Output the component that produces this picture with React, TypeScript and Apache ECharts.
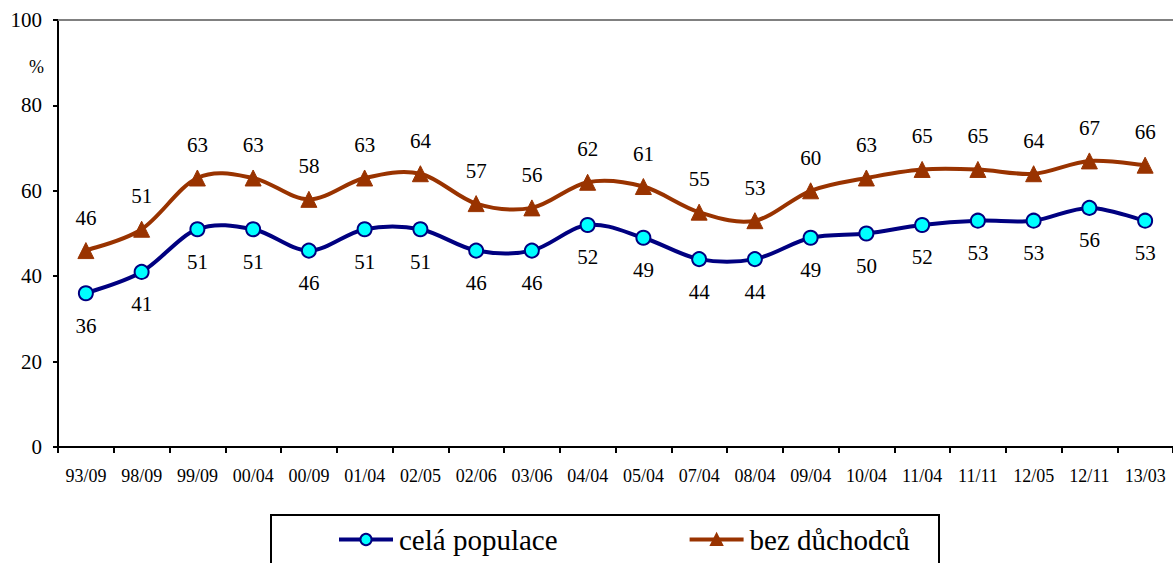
import React, { useEffect, useRef } from "react";
import * as echarts from "echarts";

const categories = ["93/09","98/09","99/09","00/04","00/09","01/04","02/05","02/06","03/06","04/04","05/04","07/04","08/04","09/04","10/04","11/04","11/11","12/05","12/11","13/03"];
const celaPopulace = [36,41,51,51,46,51,51,46,46,52,49,44,44,49,50,52,53,53,56,53];
const bezDuchodcu = [46,51,63,63,58,63,64,57,56,62,61,55,53,60,63,65,65,64,67,66];
const yTicks = { min: 0, max: 100, interval: 20 };

const FONT = "Liberation Serif";
const BLUE = "#000080";
const BROWN = "#993300";

function splineSeries(name: string, values: number[], color: string) {
  return {
    name,
    type: "custom",
    data: values.map((v, i) => [i, v]),
    silent: true,
    z: 1,
    renderItem: (params: any, api: any) => {
      const i = params.dataIndex;
      const n = values.length;
      if (i >= n - 1) return null;
      const p = (k: number) => {
        const kk = Math.max(0, Math.min(n - 1, k));
        return api.coord([kk, values[kk]]);
      };
      const p0 = p(i - 1), p1 = p(i), p2 = p(i + 1), p3 = p(i + 2);
      const t = 1 / 6;
      return {
        type: "bezierCurve",
        shape: {
          x1: p1[0], y1: p1[1],
          x2: p2[0], y2: p2[1],
          cpx1: p1[0] + (p2[0] - p0[0]) * t,
          cpy1: p1[1] + (p2[1] - p0[1]) * t,
          cpx2: p2[0] - (p3[0] - p1[0]) * t,
          cpy2: p2[1] - (p3[1] - p1[1]) * t,
        },
        style: { stroke: color, lineWidth: 4, fill: "none" },
      };
    },
  };
}

export default function App() {
  const ref = useRef<HTMLDivElement>(null);
  useEffect(() => {
    const chart = echarts.init(ref.current!, null, { renderer: "svg" });
    chart.setOption({
      animation: false,
      textStyle: { fontFamily: FONT, color: "#000" },
      grid: { left: 58, top: 20, width: 1118, height: 427, containLabel: false },
      xAxis: {
        type: "category",
        data: categories,
        boundaryGap: true,
        axisLine: { lineStyle: { color: "#000", width: 2 } },
        axisTick: { show: true, length: 6, lineStyle: { color: "#000", width: 2 } },
        axisLabel: { fontFamily: FONT, fontSize: 18, color: "#000", margin: 20, interval: 0 },
        splitLine: { show: false },
      },
      yAxis: {
        type: "value",
        min: yTicks.min,
        max: yTicks.max,
        interval: yTicks.interval,
        axisLine: { show: true, lineStyle: { color: "#000", width: 2 } },
        axisTick: { show: true, length: 5, lineStyle: { color: "#000", width: 2 } },
        axisLabel: { fontFamily: FONT, fontSize: 21, color: "#000", margin: 16 },
        splitLine: { show: false },
      },
      legend: {
        left: 337,
        top: 525,
        padding: 0,
        itemWidth: 54,
        itemHeight: 14,
        itemGap: 130,
        textStyle: { fontFamily: FONT, fontSize: 29, color: "#000", padding: [0, 0, 0, 1] },
        lineStyle: { opacity: 1, width: 4 },
        data: [
          { name: "celá populace", lineStyle: { color: BLUE, width: 4, opacity: 1 } },
          { name: "bez důchodců", lineStyle: { color: BROWN, width: 4, opacity: 1 } },
        ],
      },
      graphic: [
        { type: "rect", shape: { x: 271, y: 515, width: 668, height: 70 }, style: { fill: "none", stroke: "#000", lineWidth: 2 } },
        { type: "text", left: 29, top: 58, style: { text: "%", fontSize: 18, fontFamily: FONT, fill: "#000" } },
      ],
      series: [
        splineSeries("celá populace – křivka", celaPopulace, BLUE),
        splineSeries("bez důchodců – křivka", bezDuchodcu, BROWN),
        {
          name: "celá populace",
          type: "line",
          data: celaPopulace,
          symbol: "circle",
          symbolSize: 14,
          lineStyle: { color: BLUE, width: 4, opacity: 0 },
          itemStyle: { color: "#00FFFF", borderColor: BLUE, borderWidth: 2 },
          label: { show: true, position: "bottom", distance: 14, fontFamily: FONT, fontSize: 21, color: "#000" },
          z: 3,
        },
        {
          name: "bez důchodců",
          type: "line",
          data: bezDuchodcu,
          symbol: "triangle",
          symbolSize: 16,
          lineStyle: { color: BROWN, width: 4, opacity: 0 },
          itemStyle: { color: BROWN, borderColor: BROWN, borderWidth: 1 },
          label: { show: true, position: "top", distance: 14, fontFamily: FONT, fontSize: 21, color: "#000" },
          markLine: {
            silent: true,
            symbol: "none",
            label: { show: false },
            lineStyle: { color: "#808080", width: 2, type: "solid" },
            data: [{ yAxis: yTicks.max }],
          },
          z: 2,
        },
      ],
    });
    return () => chart.dispose();
  }, []);
  return <div ref={ref} style={{ position: "absolute", left: 0, top: 0, width: 1173, height: 563 }} />;
}
